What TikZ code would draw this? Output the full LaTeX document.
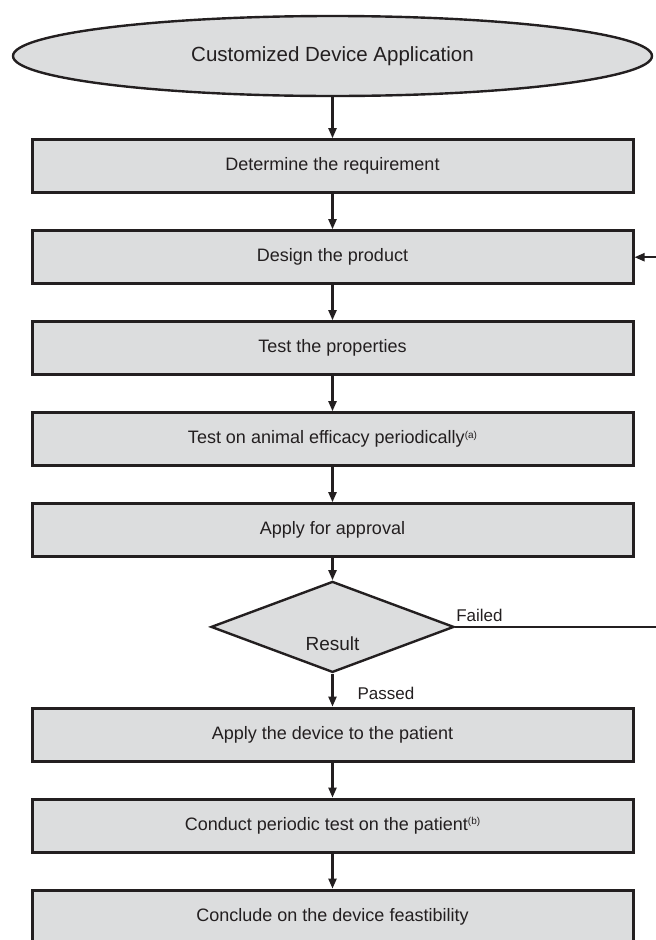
\documentclass[tikz,border=0pt]{standalone}
\usepackage{fontspec}
\setmainfont{Liberation Sans}
\usepackage{xcolor}
\usetikzlibrary{positioning,arrows.meta,calc,shapes.geometric}
\definecolor{flink}{RGB}{35,31,32}
\definecolor{flfill}{RGB}{220,221,222}
\tikzset{
  box/.style={draw=flink, line width=3pt, fill=flfill, align=center, minimum width=601pt, minimum height=53pt, text=flink, font=\fontsize{18}{21}\selectfont},
  start/.style={ellipse, draw=flink, line width=2.4pt, fill=flfill, minimum width=639pt, minimum height=80pt, text=flink, font=\fontsize{20.5}{23}\selectfont},
  decision/.style={diamond, draw=flink, line width=2.4pt, fill=flfill, minimum width=243pt, minimum height=91pt},
  arrow/.style={-{Triangle[length=10pt, width=8pt]}, line width=2.2pt, flink},
  tag/.style={text=flink, font=\fontsize{17}{19}\selectfont, inner sep=2pt}
}
\newcommand{\fnmark}[1]{\raisebox{5.5pt}{\fontsize{10}{11}\selectfont(#1)}}

\begin{document}
\begin{tikzpicture}[x=1pt, y=-1pt, node distance=35pt]
    \useasboundingbox (0,0) rectangle (656,940);
    \node[start] (app) at (332.5,56) {Customized Device Application};
    \node[box, below=41pt of app] (req) {Determine the requirement};
    \node[box, below=of req] (design) {Design the product};
    \node[box, below=of design] (props) {Test the properties};
    \node[box, below=of props] (animal) {Test on animal efficacy periodically\fnmark{a}};
    \node[box, below=of animal] (approve) {Apply for approval};
    \node[decision, below=22pt of approve, label={[tag, font=\fontsize{19}{22}\selectfont, yshift=-17pt]center:Result}] (res) {};
    \node[box, below=33pt of res] (patient) {Apply the device to the patient};
    \node[box, below=of patient] (periodic) {Conduct periodic test on the patient\fnmark{b}};
    \node[box, below=of periodic] (conclude) {Conclude on the device feastibility};
    \coordinate (back) at (672,0);
    \draw[arrow] (app) -- (req);
    \draw[arrow] (req) -- (design);
    \draw[arrow] (design) -- (props);
    \draw[arrow] (props) -- (animal);
    \draw[arrow] (animal) -- (approve);
    \draw[arrow] (approve) -- (res);
    \draw[arrow] (res) -- node[tag, pos=0.6, anchor=west, xshift=22pt] {Passed} (patient);
    \draw[arrow] (patient) -- (periodic);
    \draw[arrow] (periodic) -- (conclude);
    \draw[arrow] (res.east) -- node[tag, pos=0, anchor=south west, inner ysep=4pt, xshift=-2pt] {Failed} (res.east -| back) |- (design.east);
  \end{tikzpicture}
\end{document}
